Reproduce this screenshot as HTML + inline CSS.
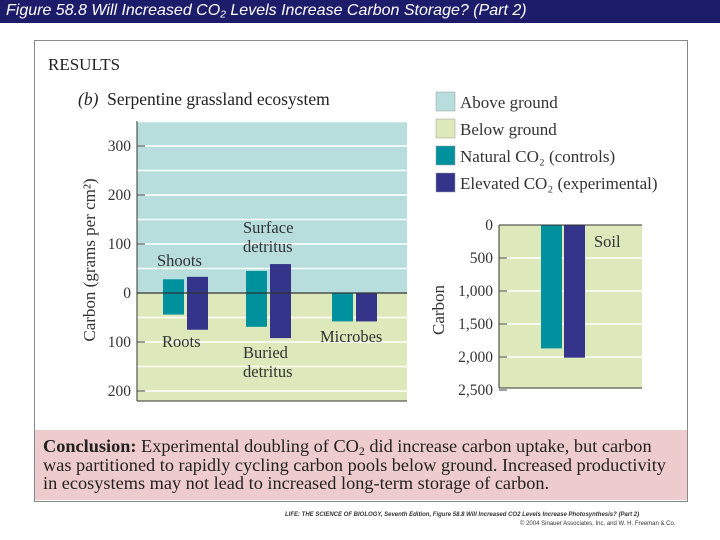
<!DOCTYPE html>
<html><head><meta charset="utf-8"><style>
body{margin:0;width:720px;height:540px;background:#fff;overflow:hidden;position:relative;font-family:"Liberation Serif",serif}
.t{position:absolute;white-space:nowrap}
sub{line-height:0;font-size:0.65em;vertical-align:-0.25em}
</style></head><body>
<div style="position:absolute;left:0;top:0;width:720px;height:23px;background:#1c1c6b"></div>
<div class="t" style="left:6px;top:2px;color:#fff;font:italic 16px 'Liberation Sans',sans-serif">Figure 58.8  Will Increased CO<sub>2</sub> Levels Increase Carbon Storage? (Part 2)</div>
<div style="position:absolute;left:34px;top:40px;width:652px;height:460px;border:1px solid #888;background:#fff"></div>
<div class="t" style="left:48px;top:55px;font-size:17px;color:#222">RESULTS</div>
<div class="t" style="left:78px;top:89px;font-size:17.5px;color:#222"><i>(b)</i>&nbsp; Serpentine grassland ecosystem</div>
<svg width="720" height="540" style="position:absolute;left:0;top:0" font-family="Liberation Serif, serif" id="svg"></svg>
<div style="position:absolute;left:35px;top:430px;width:652px;height:70px;background:#eecbcc"></div>
<div class="t" style="left:43px;top:437px;font-size:18.3px;line-height:18.5px;color:#222"><b>Conclusion:</b> Experimental doubling of CO<sub>2</sub> did increase carbon uptake, but carbon<br>was partitioned to rapidly cycling carbon pools below ground. Increased productivity<br>in ecosystems may not lead to increased long-term storage of carbon.</div>
<div class="t" style="left:285px;top:512px;font:bold italic 6px 'Liberation Sans',sans-serif;color:#333">LIFE: THE SCIENCE OF BIOLOGY, Seventh Edition, Figure 58.8 Will Increased CO2 Levels Increase Photosynthesis? (Part 2)</div>
<div class="t" style="left:520px;top:521px;font:6px 'Liberation Sans',sans-serif;color:#333">© 2004 Sinauer Associates, Inc. and W. H. Freeman &amp; Co.</div>
<script>
const groups=['Shoots/Roots','Detritus','Microbes'];
const naturalTop=[28,45,0];
const naturalBottom=[-44,-69,-58];
const elevatedTop=[33,59,0];
const elevatedBottom=[-75,-92,-58];
const yTicks=[300,200,100,0,-100,-200];
const soilNatural=[1870];
const soilElevated=[2010];
const soilTicks=[0,500,1000,1500,2000,2500];
const NS='http://www.w3.org/2000/svg',svg=document.getElementById('svg');
function mk(t,a,txt){const e=document.createElementNS(NS,t);for(const k in a)e.setAttribute(k,a[k]);if(txt!=null)e.textContent=txt;svg.appendChild(e);return e;}
const y=v=>293-v*0.49;
const gx=[163,246,332];
let e;
e=mk('rect',{x:137,y:121,width:270,height:172,fill:'#b7dedd'});

e=mk('rect',{x:137,y:293,width:270,height:108,fill:'#dde8bb'});

for(let v=-200;v<=350;v+=50){if(v===0)continue;e=mk('line',{x1:137,x2:407,y1:y(v),y2:y(v),stroke:'#fff','stroke-width':1.5});
}
yTicks.forEach(v=>{e=mk('text',{x:131,y:y(v)+5,'text-anchor':'end','font-size':15.5,fill:'#333'},String(Math.abs(v)));

e=mk('line',{x1:137,x2:145,y1:y(v),y2:y(v),stroke:'#444'});});
groups.forEach((g,i)=>{
e=mk('rect',{x:gx[i],y:y(naturalTop[i]),width:21,height:y(naturalBottom[i])-y(naturalTop[i]),fill:'#00919f'});

e=mk('rect',{x:gx[i]+24,y:y(elevatedTop[i]),width:21,height:y(elevatedBottom[i])-y(elevatedTop[i]),fill:'#34358a'});
});
e=mk('line',{x1:137,x2:407,y1:293,y2:293,stroke:'#333','stroke-width':1.2});
e=mk('line',{x1:137,x2:137,y1:121,y2:401,stroke:'#333'});
e=mk('line',{x1:137,x2:407,y1:401,y2:401,stroke:'#333'});
[['Shoots',157,266],['Roots',162,347],['Surface',243,233],['detritus',243,252],['Buried',243,358],['detritus',243,377],['Microbes',320,342]].forEach(a=>{
e=mk('text',{x:a[1],y:a[2],'font-size':16.5,fill:'#333'},a[0]);});
e=mk('text',{transform:'translate(95,260) rotate(-90)','text-anchor':'middle','font-size':17,fill:'#333'},'Carbon (grams per cm²)');

const leg=[['#b7dedd','Above ground'],['#dde8bb','Below ground'],['#00919f','Natural CO₂  (controls)'],['#34358a','Elevated CO₂ (experimental)']];
leg.forEach((l,i)=>{e=mk('rect',{x:436,y:92+i*27,width:19,height:19,fill:l[0],stroke:'#999','stroke-width':0.5});

e=mk('text',{x:460,y:108+i*27,'font-size':17,fill:'#333'},l[1]);});
const sy=v=>225+v*0.066;
e=mk('rect',{x:499,y:225,width:143,height:163,fill:'#dde8bb'});
[500,1000,1500,2000].forEach(v=>{e=mk('line',{x1:499,x2:642,y1:sy(v),y2:sy(v),stroke:'#fff','stroke-width':1.5});});
soilTicks.forEach(v=>{e=mk('text',{x:493,y:sy(v)+5,'text-anchor':'end','font-size':15.5,fill:'#333'},v.toLocaleString('en-US'));

e=mk('line',{x1:499,x2:507,y1:sy(v),y2:sy(v),stroke:'#444'});});
e=mk('rect',{x:541,y:225,width:21,height:sy(soilNatural[0])-225,fill:'#00919f'});
e=mk('rect',{x:564,y:225,width:21,height:sy(soilElevated[0])-225,fill:'#34358a'});
e=mk('line',{x1:499,x2:642,y1:225,y2:225,stroke:'#333'});
e=mk('line',{x1:499,x2:499,y1:225,y2:388,stroke:'#333'});
e=mk('line',{x1:499,x2:642,y1:388,y2:388,stroke:'#333'});
e=mk('text',{x:594,y:247,'font-size':16.5,fill:'#333'},'Soil');
e=mk('text',{transform:'translate(444,310) rotate(-90)','text-anchor':'middle','font-size':17,fill:'#333'},'Carbon');
</script>
</body></html>
